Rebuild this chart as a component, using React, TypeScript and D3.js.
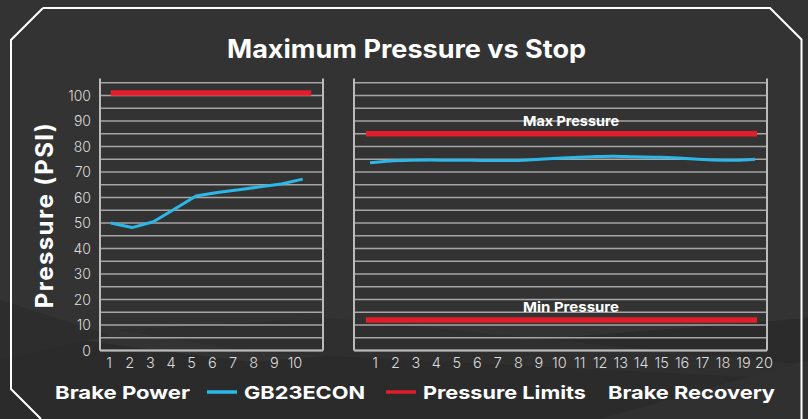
import React from "react";
import * as d3 from "d3";

const title = "Maximum Pressure vs Stop";
const yAxisTitle = "Pressure (PSI)";
const yTickValues = [0, 10, 20, 30, 40, 50, 60, 70, 80, 90, 100];
const gridValues = d3.range(0, 106, 5);

const brakePowerStops = [1, 2, 3, 4, 5, 6, 7, 8, 9, 10];
const brakePowerValues = [50, 48.2, 50.5, 55.5, 60.6, 62, 63, 64.2, 65.3, 67.2];
const brakePowerLimit = [{ value: 101, from: 1, to: 10.4 }];

const recoveryStops = [1, 2, 3, 4, 5, 6, 7, 8, 9, 10, 11, 12, 13, 14, 15, 16, 17, 18, 19, 20];
const recoveryValues = [73.6, 74.3, 74.6, 74.7, 74.6, 74.6, 74.5, 74.5, 74.8, 75.3, 75.7, 76, 76.2, 76, 75.8, 75.6, 75.1, 74.7, 74.6, 75];
const recoveryLimits = [
  { label: "Max Pressure", value: 85, from: 0.8, to: 20.1 },
  { label: "Min Pressure", value: 12, from: 0.8, to: 20.1 },
];

const legendItems = [
  { label: "Brake Power", kind: "none" },
  { label: "GB23ECON", kind: "blue" },
  { label: "Pressure Limits", kind: "red" },
  { label: "Brake Recovery", kind: "none" },
];

const W = 808;
const H = 419;
const BLUE = "#2bb8e8";
const RED = "#e21d2c";
const GRID = "#a6a6a6";
const FONT = "Inter, 'Open Sans', sans-serif";

export default function App() {
  const y = d3.scaleLinear().domain([0, 105]).range([350.5, 82.75]);
  const axisTop = y(106.7);

  const panels = [
    {
      x0: 100, x1: 323,
      stops: brakePowerStops, values: brakePowerValues,
      data: d3.scaleLinear().domain([1, 10]).range([110.7, 302.7]),
      labels: d3.scaleLinear().domain([1, 10]).range([109, 295]),
      limits: brakePowerLimit.map((l) => ({ ...l, label: "" })),
      curve: d3.curveLinear,
    },
    {
      x0: 354, x1: 767,
      stops: recoveryStops, values: recoveryValues,
      data: d3.scaleLinear().domain([1, 20]).range([370, 755]),
      labels: d3.scaleLinear().domain([1, 20]).range([375, 764]),
      limits: recoveryLimits,
      curve: d3.curveMonotoneX,
    },
  ];

  const legendX = [55, 244, 423, 608];
  const legendW = [135, 121, 163, 167];

  return (
    <svg width={W} height={H} style={{ position: "fixed", left: 0, top: 0, display: "block" }}>
      <rect width={W} height={H} fill="#333333" />
      <polygon points="0,330 250,362 808,318 808,419 0,419" fill="#2b2b2b" />
      <polygon points="0,300 110,335 0,360" fill="#2d2d2d" />
      <polygon points="120,330 330,318 808,365 808,380 250,352" fill="#2f2f2f" />
      <polygon points="600,419 808,360 808,419" fill="#303030" />
      <path d="M43,8 L770,8 L801.5,39.5 L801.5,419 M43,8 L11,40 L11,389 L41,419" fill="none" stroke="#ffffff" strokeWidth={2} />

      <text x={227} y={57.5} textLength={359} lengthAdjust="spacingAndGlyphs" fill="#ffffff" fontFamily={FONT} fontWeight={700} fontSize={25}>{title}</text>

      <text transform={`translate(53,215) rotate(-90)`} textAnchor="middle" fill="#ffffff" fontFamily={FONT} fontWeight={700} fontSize={24} letterSpacing={1.4}>{yAxisTitle}</text>

      {yTickValues.map((v) => (
        <text key={v} x={91} y={y(v) + 5} textAnchor="end" fill="#dddddd" fontFamily={FONT} fontWeight={300} fontSize={14}>{v}</text>
      ))}

      {panels.map((p, pi) => {
        const line = d3.line<number>().x((_, i) => p.data(p.stops[i])).y((d) => y(d)).curve(p.curve);
        return (
          <g key={pi}>
            {gridValues.map((g) => (
              <line key={g} x1={p.x0} x2={p.x1} y1={y(g)} y2={y(g)} stroke={GRID} strokeWidth={1.5} />
            ))}
            <line x1={p.x0} x2={p.x0} y1={axisTop} y2={y(0)} stroke="#bbbbbb" strokeWidth={2} />
            <line x1={p.x1} x2={p.x1} y1={axisTop} y2={y(0)} stroke="#bbbbbb" strokeWidth={2} />
            <line x1={p.x0} x2={p.x1} y1={y(0)} y2={y(0)} stroke="#bbbbbb" strokeWidth={2} />
            {p.limits.map((l, li) => (
              <g key={li}>
                <line x1={p.data(l.from)} x2={p.data(l.to)} y1={y(l.value)} y2={y(l.value)} stroke={RED} strokeWidth={5.5} />
                {l.label ? (
                  <text x={523} y={y(l.value) - 7.5} textLength={96} lengthAdjust="spacingAndGlyphs" fill="#ffffff" fontFamily={FONT} fontWeight={700} fontSize={13.5}>{l.label}</text>
                ) : null}
              </g>
            ))}
            <path d={line(p.values) || ""} fill="none" stroke={BLUE} strokeWidth={3} strokeLinejoin="round" />
            {p.stops.map((s) => (
              <text key={s} x={p.labels(s)} y={368} textAnchor="middle" fill="#dddddd" fontFamily={FONT} fontWeight={300} fontSize={14.5}>{s}</text>
            ))}
          </g>
        );
      })}

      {legendItems.map((item, i) => (
        <g key={i}>
          {item.kind !== "none" ? (
            <line x1={legendX[i] - 37} x2={legendX[i] - 7} y1={392} y2={392} stroke={item.kind === "blue" ? BLUE : RED} strokeWidth={3.5} />
          ) : null}
          <text x={legendX[i]} y={398.5} textLength={legendW[i]} lengthAdjust="spacingAndGlyphs" fill="#ffffff" fontFamily={FONT} fontWeight={700} fontSize={18}>{item.label}</text>
        </g>
      ))}
    </svg>
  );
}
